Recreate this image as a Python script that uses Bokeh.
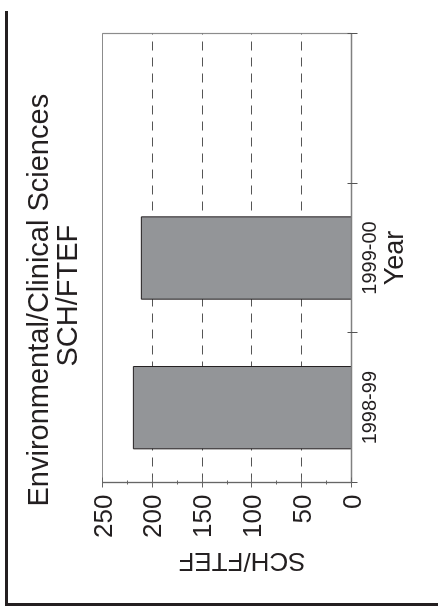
from bokeh.plotting import figure
from bokeh.models import (Range1d, FixedTicker, SingleIntervalTicker, Title,
                          InlineStyleSheet, ColumnDataSource)
from bokeh.embed import file_html
from bokeh.resources import INLINE

# ---- data ----
title_lines = ["Environmental/Clinical Sciences", "SCH/FTEF"]
years = ["1998-99", "1999-00"]
sch_ftef = [219, 211]
n_slots = 3
value_max = 250
grid_values = [50, 100, 150, 200]
x_title = "Year"
y_title = "SCH/FTEF"

INK = "#231f20"
FONT = "Liberation Sans"

slot_centers = [i + 0.5 for i in range(len(years))]
src = ColumnDataSource(dict(year=years, x=slot_centers, v=sch_ftef))

# The original page is printed sideways: build the chart upright (square
# canvas, so its measured size is the same either way round) and turn the
# whole plot a quarter turn counter-clockwise with CSS.
S = 595
p = figure(width=S, height=S, output_backend="svg", toolbar_location=None,
           x_range=Range1d(0, n_slots), y_range=Range1d(0, value_max),
           min_border_left=120, min_border_right=26,
           min_border_top=94, min_border_bottom=252)
p.background_fill_color = "white"
p.border_fill_color = "white"
p.outline_line_color = "#8c8c8c"
p.outline_line_width = 1.2

# two-line title: the figure's own title is the outer line,
# an added Title sits next to the frame
p.title.text = title_lines[0]
p.title.align = "left"
p.title.offset = -24
p.title.standoff = -50
p.title.text_font = FONT
p.title.text_font_size = "29px"
p.title.text_font_style = "normal"
p.title.text_color = INK
p.add_layout(Title(text=title_lines[1], align="left", offset=116, standoff=40,
                   text_font=FONT, text_font_size="29px",
                   text_font_style="normal", text_color=INK), "above")

p.vbar(x="x", bottom=0, top="v", width=0.55, source=src,
       fill_color="#939598", line_color=INK, line_width=1)

# value axis (left)
ya = p.yaxis[0]
ya.ticker = SingleIntervalTicker(interval=50, num_minor_ticks=2)
ya.major_label_text_font = FONT
ya.major_label_text_font_size = "26px"
ya.major_label_text_color = INK
ya.major_label_standoff = 7
ya.axis_line_color = "#666666"
ya.axis_line_width = 1.2
ya.major_tick_line_color = "#666666"
ya.major_tick_in = 5
ya.major_tick_out = 5
ya.minor_tick_line_color = "#666666"
ya.minor_tick_in = 2
ya.minor_tick_out = 2
p.add_layout(Title(text=y_title, align="right", offset=76, standoff=13,
                   text_font=FONT, text_font_size="26px",
                   text_font_style="normal", text_color=INK), "left")

# category axis (bottom)
xa = p.xaxis[0]
xa.ticker = FixedTicker(ticks=slot_centers, minor_ticks=list(range(n_slots + 1)))
xa.major_label_overrides = {c: y for c, y in zip(slot_centers, years)}
xa.major_label_text_font = FONT
xa.major_label_text_font_size = "20px"
xa.major_label_text_color = INK
xa.major_label_standoff = 4
xa.major_tick_line_color = None
xa.major_tick_in = 0
xa.major_tick_out = 0
xa.axis_line_color = "#808080"
xa.axis_line_width = 1.5
xa.minor_tick_line_color = "#555555"
xa.minor_tick_in = 4
xa.minor_tick_out = 6
xa.axis_label = x_title
xa.axis_label_text_font = FONT
xa.axis_label_text_font_size = "27px"
xa.axis_label_text_font_style = "normal"
xa.axis_label_text_color = INK
xa.axis_label_standoff = 0

# grid
p.ygrid.ticker = FixedTicker(ticks=grid_values)
p.ygrid.grid_line_color = "#555555"
p.ygrid.grid_line_dash = "9 7"
p.ygrid.grid_line_width = 1
p.xgrid.grid_line_color = None

p.stylesheets = [InlineStyleSheet(css=(
    ":host { position: fixed; left: 8px; top: 8px; "
    "transform-origin: top left; "
    "transform: translateY(%dpx) rotate(-90deg); "
    "box-shadow: -3px -3px 0 0 #231f20; }" % S))]

open("out.html", "w").write(file_html(p, INLINE))
